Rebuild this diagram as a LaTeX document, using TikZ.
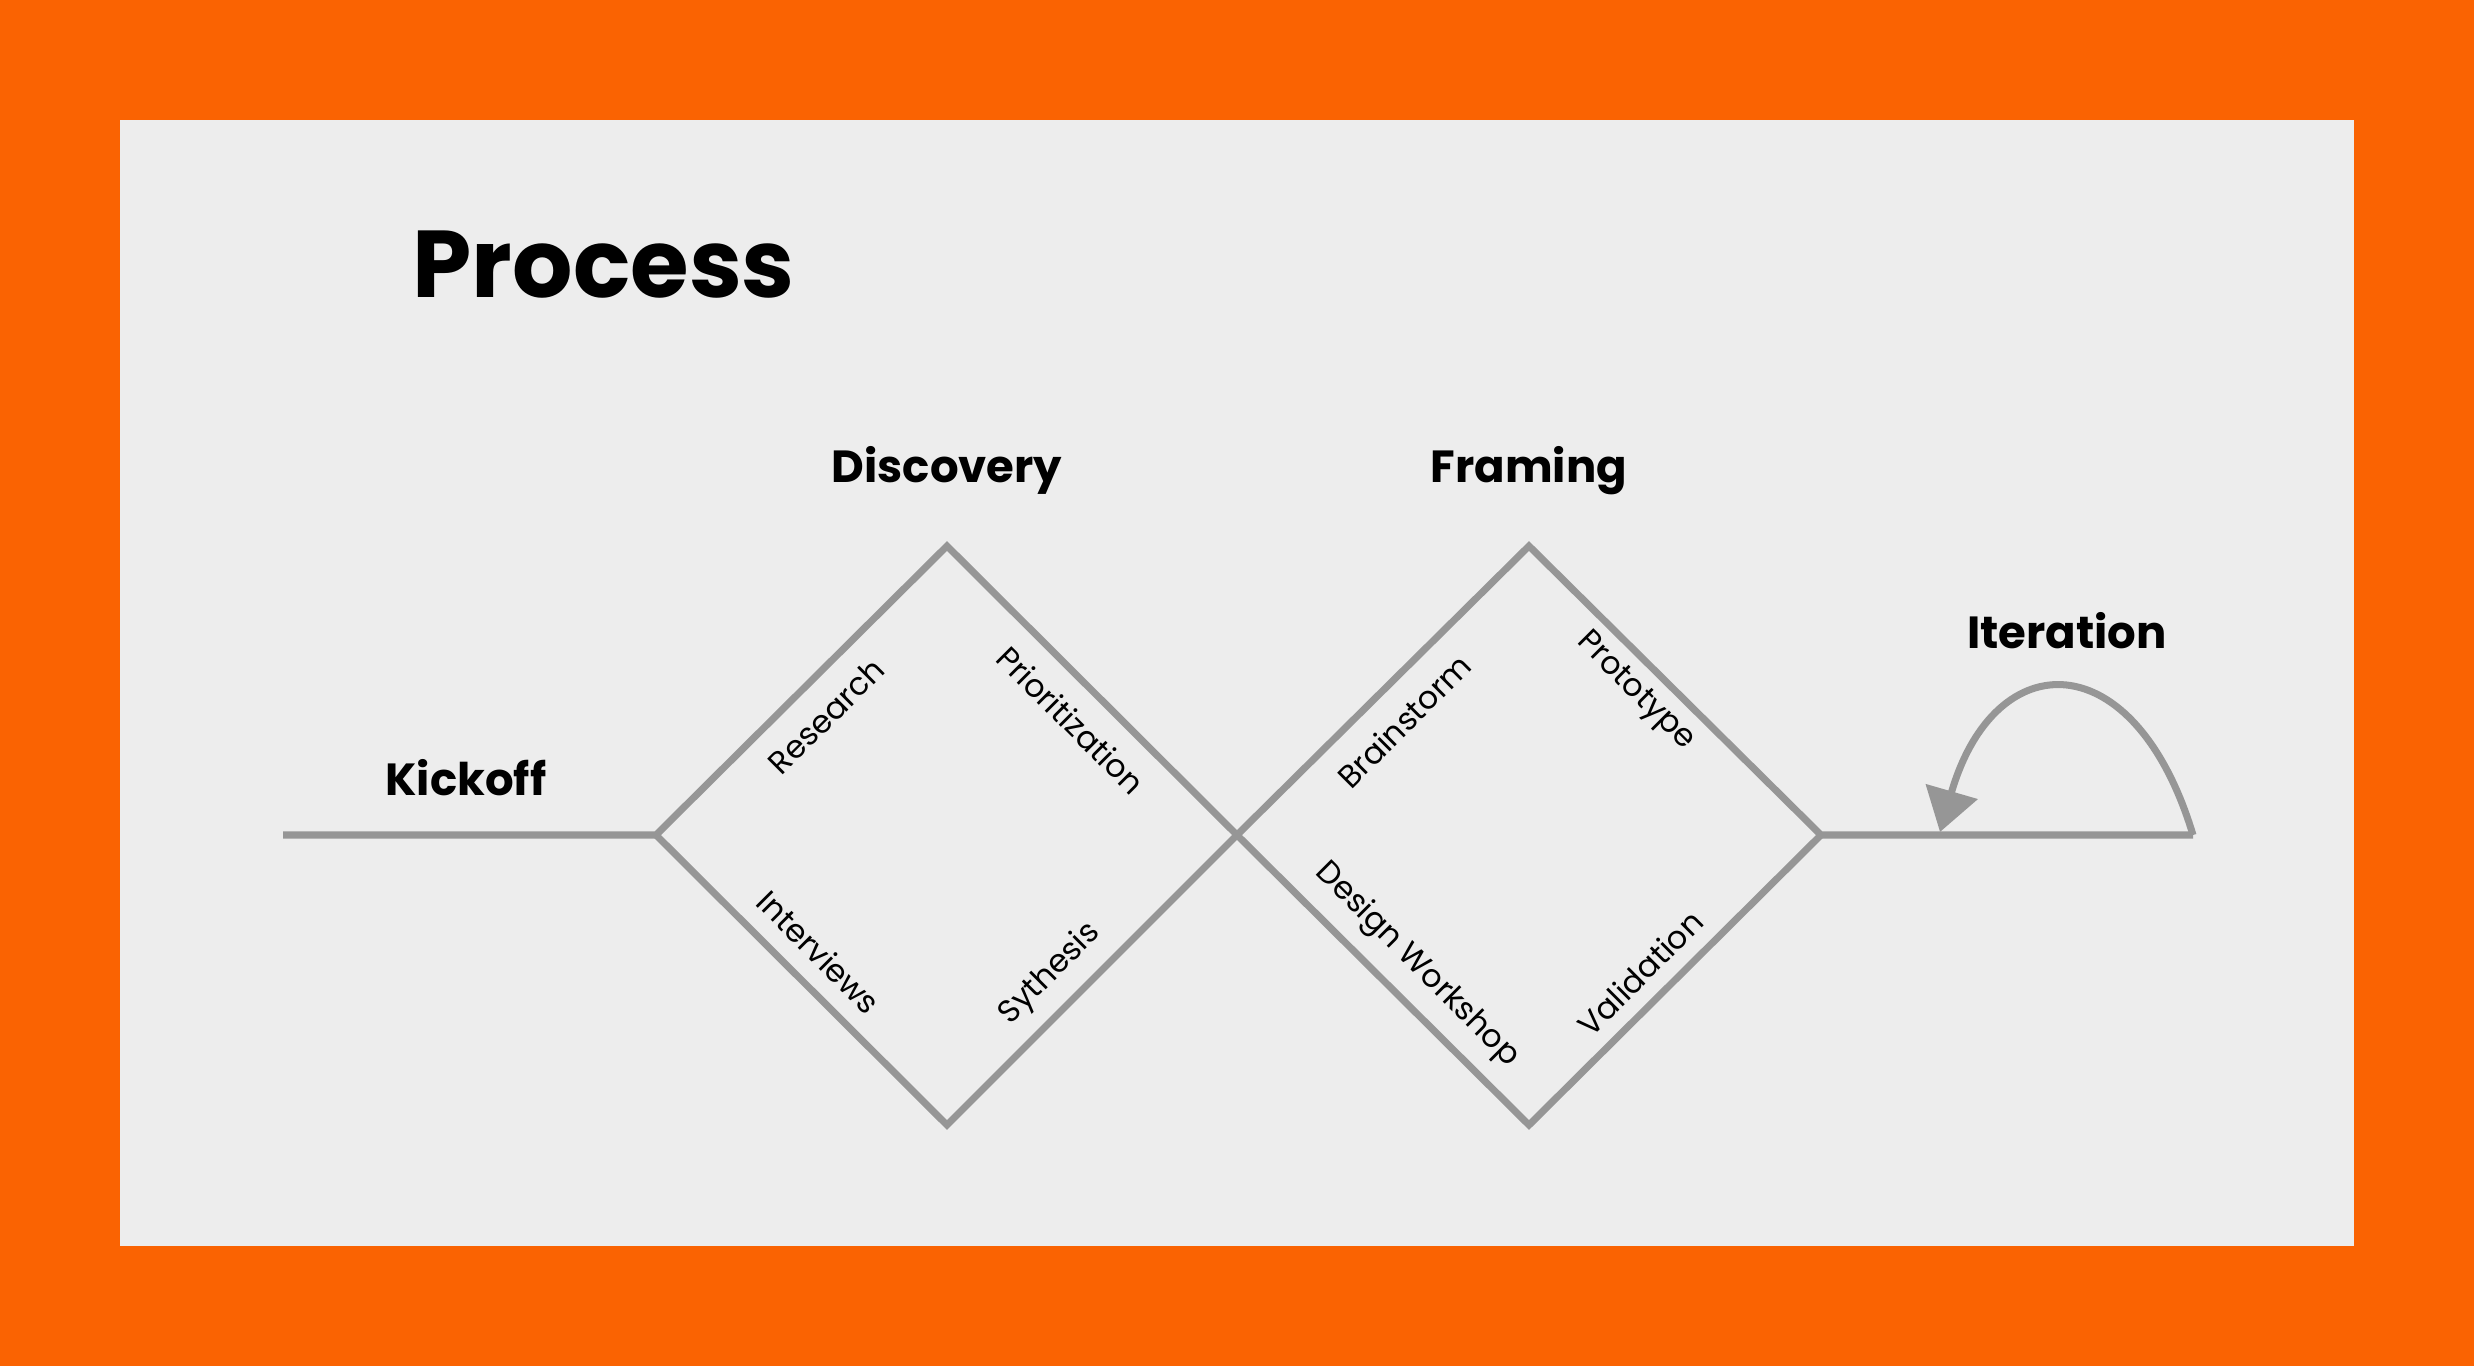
\documentclass[tikz,border=0pt]{standalone}
\usepackage{fontspec}
\setmainfont{Poppins}
\usepackage{tikz}
\usetikzlibrary{positioning,arrows.meta}

\definecolor{frameorange}{RGB}{250,99,2}
\definecolor{panelgrey}{RGB}{237,237,237}
\definecolor{linegrey}{RGB}{150,150,150}

\begin{document}
\begin{tikzpicture}[x=0.01cm, y=-0.01cm, every node/.style={align=center, inner sep=0pt},
  phase/.style={anchor=base, font=\fontsize{12.8}{15}\selectfont\bfseries},
  activity/.style={font=\fontsize{9}{11}\selectfont},
  flow/.style={draw=linegrey, line width=2pt, line join=miter}]

% Background
\fill[frameorange] (0,0) rectangle (2474,1366);
\fill[panelgrey] (120,120) rectangle (2354,1246);
\useasboundingbox (0,0) rectangle (2474,1366);

% Title
\node (title) [anchor=base west, font=\fontsize{27}{31}\selectfont\bfseries] at (412,297) {Process};

% Points
\coordinate (kickStart) at (283,835);
\coordinate (discLeft) at (656,835);
\coordinate (discTop) at (947,546);
\coordinate (middle) at (1237,835);
\coordinate (discBottom) at (947,1125);
\coordinate (frameTop) at (1529,546);
\coordinate (frameRight) at (1821,835);
\coordinate (frameBottom) at (1529,1125);
\coordinate (iterEnd) at (2193,835);
\coordinate (iterTip) at (1940,832);

% Phases
\node (kickoff) [phase] at (466,795) {Kickoff};
\node (discovery) [phase] at (947,482) {Discovery};
\node (framing) [phase] at (1529,482) {Framing};
\node (iteration) [phase] at (2067,648) {Iteration};

% Activities
\node (research) [activity, rotate=45] at (826,716) {Research};
\node (prioritization) [activity, rotate=-45] at (1071,720) {Prioritization};
\node (interviews) [activity, rotate=-45] at (819,952) {Interviews};
\node (sythesis) [activity, rotate=45] at (1050,974) {Sythesis};
\node (brainstorm) [activity, rotate=45] at (1404,721) {Brainstorm};
\node (prototype) [activity, rotate=-45] at (1635,692) {Prototype};
\node (workshop) [activity, rotate=-45] at (1417,965) {Design Workshop};
\node (validation) [activity, rotate=45] at (1640,973) {Validation};

% Lines
\draw[flow] (kickStart) -- (discLeft) -- (discTop) -- (middle) -- (frameTop) -- (frameRight) -- (iterEnd);
\draw[flow] (discLeft) -- (discBottom) -- (middle) -- (frameBottom) -- (frameRight);
\draw[flow, -{Triangle[length=12pt, width=15pt]}] (iterEnd) .. controls (2135,642) and (1995,642) .. (iterTip);

\end{tikzpicture}
\end{document}
